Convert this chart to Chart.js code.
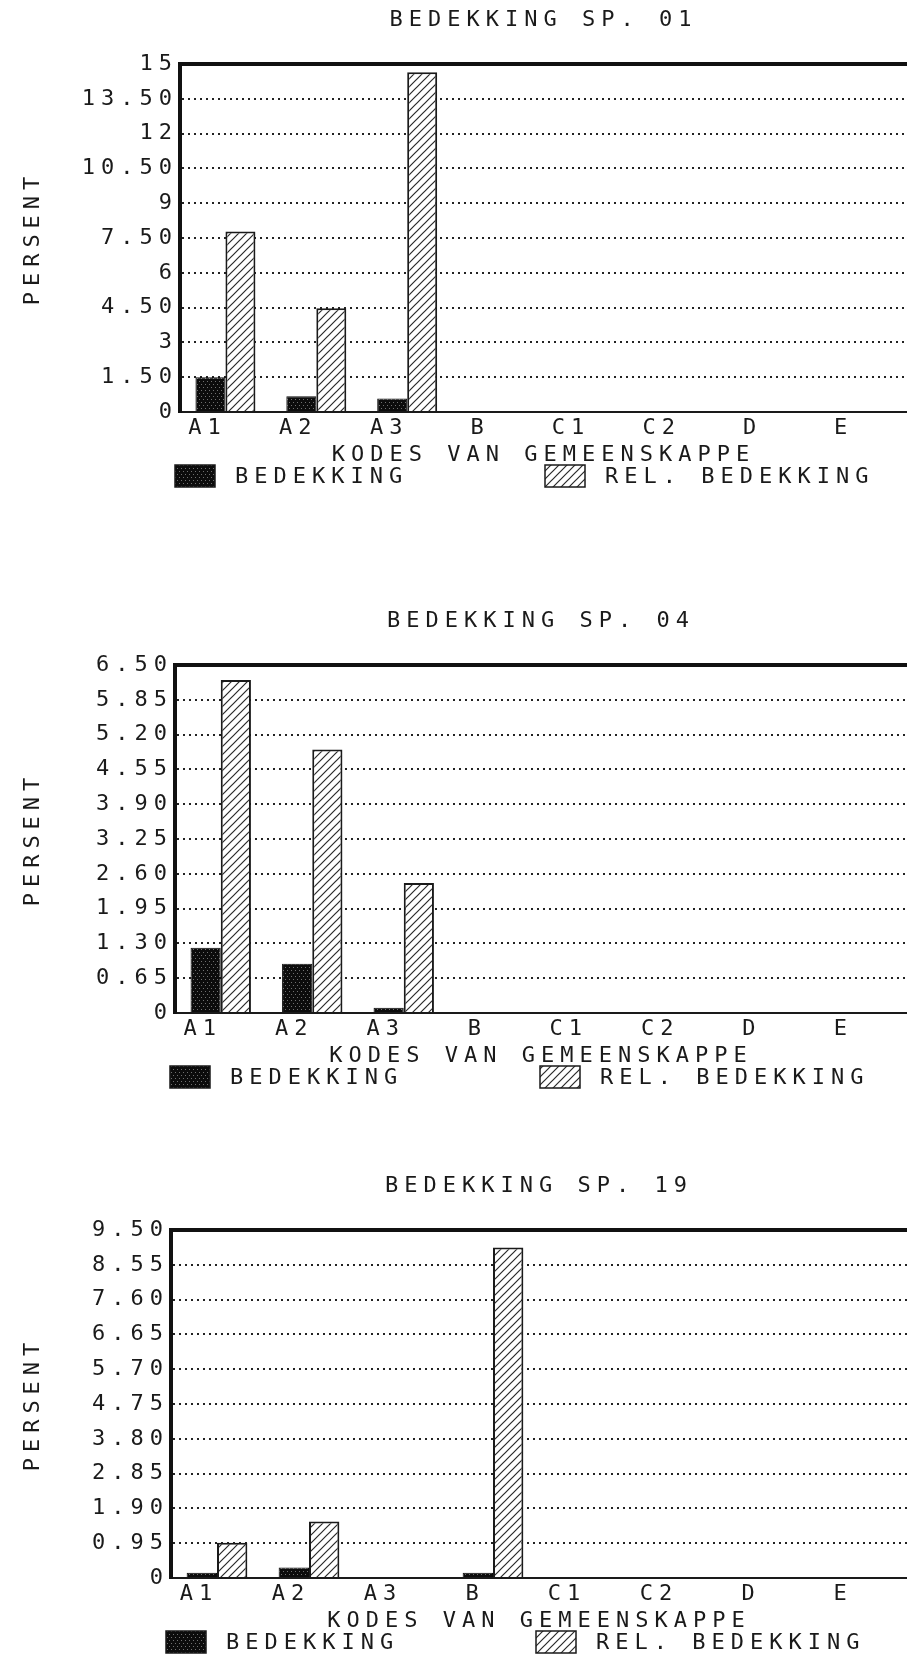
<!DOCTYPE html>
<html>
<head>
<meta charset="utf-8">
<title>Bedekking</title>
<script src="https://cdn.jsdelivr.net/npm/chart.js@4.4.0/dist/chart.umd.min.js"></script>
<style>
  html, body { margin: 0; padding: 0; background: #fff; overflow: hidden; }
  .plot { position: absolute; left: 0; width: 907px; height: 492px; }
</style>
</head>
<body>
<div class="plot" style="top:0"><canvas id="chart-sp01"></canvas></div>
<div class="plot" style="top:601px"><canvas id="chart-sp04"></canvas></div>
<div class="plot" style="top:1166px"><canvas id="chart-sp19"></canvas></div>
<script>
var kodes = ["A1", "A2", "A3", "B", "C1", "C2", "D", "E"];

var bedekking01 = [1.5, 0.68, 0.58, 0, 0, 0, 0, 0];
var relBedekking01 = [7.78, 4.47, 14.64, 0, 0, 0, 0, 0];
var ticks01 = ["0", "1.50", "3", "4.50", "6", "7.50", "9", "10.50", "12", "13.50", "15"];

var bedekking04 = [1.22, 0.92, 0.1, 0, 0, 0, 0, 0];
var relBedekking04 = [6.22, 4.92, 2.43, 0, 0, 0, 0, 0];
var ticks04 = ["0", "0.65", "1.30", "1.95", "2.60", "3.25", "3.90", "4.55", "5.20", "5.85", "6.50"];

var bedekking19 = [0.14, 0.29, 0, 0.14, 0, 0, 0, 0];
var relBedekking19 = [0.96, 1.54, 0, 9.02, 0, 0, 0, 0];
var ticks19 = ["0", "0.95", "1.90", "2.85", "3.80", "4.75", "5.70", "6.65", "7.60", "8.55", "9.50"];

var INK = "#1a1a1a";
var SPACING = "6px";

Chart.defaults.font.family = "'DejaVu Sans Mono', 'Liberation Mono', monospace";
Chart.defaults.font.size = 22;
Chart.defaults.font.lineHeight = 1;
Chart.defaults.color = INK;

// dense dark fill, like the printer's shaded bars
function darkPattern() {
	var c = document.createElement("canvas");
	c.width = 4; c.height = 6;
	var g = c.getContext("2d");
	g.fillStyle = "#0c0c0c";
	g.fillRect(0, 0, 4, 6);
	g.fillStyle = "#707070";
	g.fillRect(1, 0, 1, 1);
	g.fillRect(3, 3, 1, 1);
	return g.createPattern(c, "repeat");
}

// white fill with "/" hatching
function hatchPattern() {
	var c = document.createElement("canvas");
	c.width = 8; c.height = 8;
	var g = c.getContext("2d");
	g.fillStyle = "#fff";
	g.fillRect(0, 0, 8, 8);
	g.strokeStyle = "#2a2a2a";
	g.lineWidth = 1.2;
	g.beginPath();
	g.moveTo(0, 8); g.lineTo(8, 0);
	g.moveTo(-1, 1); g.lineTo(1, -1);
	g.moveTo(7, 9); g.lineTo(9, 7);
	g.stroke();
	return g.createPattern(c, "repeat");
}

var dark = darkPattern();
var hatch = hatchPattern();

// wide letter spacing for all chart text
var dotMatrixText = {
	id: "dotMatrixText",
	beforeLayout: function (chart) { chart.ctx.letterSpacing = SPACING; },
	beforeDraw: function (chart) { chart.ctx.letterSpacing = SPACING; }
};

// legend row under the axis title, swatches spread apart
var swatchLegend = {
	id: "swatchLegend",
	afterDraw: function (chart) {
		var ctx = chart.ctx;
		var area = chart.chartArea;
		var y = chart.height - 16;
		var offsets = [-5, 365];
		ctx.save();
		ctx.letterSpacing = SPACING;
		ctx.font = "22px " + Chart.defaults.font.family;
		ctx.textBaseline = "middle";
		ctx.textAlign = "left";
		chart.data.datasets.forEach(function (ds, i) {
			var x = area.left + offsets[i];
			ctx.fillStyle = ds.backgroundColor;
			ctx.fillRect(x, y - 11, 40, 22);
			ctx.strokeStyle = INK;
			ctx.lineWidth = 1.5;
			ctx.strokeRect(x, y - 11, 40, 22);
			ctx.fillStyle = INK;
			ctx.fillText(ds.label, x + 60, y + 1);
		});
		ctx.restore();
	}
};

function makeChart(id, title, bed, rel, tickLabels, axisWidth) {
	var yMax = parseFloat(tickLabels[tickLabels.length - 1]);

	return new Chart(document.getElementById(id), {
		type: "bar",
		data: {
			labels: kodes,
			datasets: [
				{
					label: "BEDEKKING",
					data: bed,
					backgroundColor: dark,
					borderColor: "#0c0c0c",
					borderWidth: 1,
					barPercentage: 1,
					categoryPercentage: 0.66
				},
				{
					label: "REL. BEDEKKING",
					data: rel,
					backgroundColor: hatch,
					borderColor: INK,
					borderWidth: 2,
					barPercentage: 1,
					categoryPercentage: 0.66
				}
			]
		},
		options: {
			responsive: true,
			maintainAspectRatio: false,
			animation: false,
			layout: { padding: { left: 0, right: 0, top: 0, bottom: 26 } },
			scales: {
				x: {
					grid: { display: false, drawTicks: false },
					border: { color: INK, width: 2 },
					ticks: { padding: 5, labelOffset: -18, maxRotation: 0, autoSkip: false },
					title: {
						display: true,
						text: "KODES VAN GEMEENSKAPPE",
						padding: { top: 0, bottom: 0 }
					}
				},
				xTop: {
					axis: "x",
					position: "top",
					ticks: { display: false },
					grid: { display: false, drawTicks: false },
					border: { color: "#111", width: 4 }
				},
				y: {
					min: 0,
					max: yMax,
					afterBuildTicks: function (scale) {
						scale.ticks = tickLabels.map(function (t) { return { value: parseFloat(t) }; });
					},
					afterFit: function (scale) { scale.width = axisWidth; },
					ticks: {
						padding: 2,
						callback: function (value, index) { return tickLabels[index]; }
					},
					grid: { color: "#222", lineWidth: 2, drawTicks: false },
					border: { color: "#111", width: 4, dash: [2, 4] },
					title: {
						display: true,
						text: "PERSENT",
						padding: { top: 22, bottom: 0 }
					}
				}
			},
			plugins: {
				title: {
					display: true,
					text: title,
					fullSize: false,
					color: INK,
					font: { size: 22, weight: "normal" },
					padding: { top: 9, bottom: 33 }
				},
				legend: { display: false },
				tooltip: { enabled: false }
			}
		},
		plugins: [dotMatrixText, swatchLegend]
	});
}

makeChart("chart-sp01", "BEDEKKING SP. 01", bedekking01, relBedekking01, ticks01, 180);
makeChart("chart-sp04", "BEDEKKING SP. 04", bedekking04, relBedekking04, ticks04, 175);
makeChart("chart-sp19", "BEDEKKING SP. 19", bedekking19, relBedekking19, ticks19, 171);
</script>
</body>
</html>
